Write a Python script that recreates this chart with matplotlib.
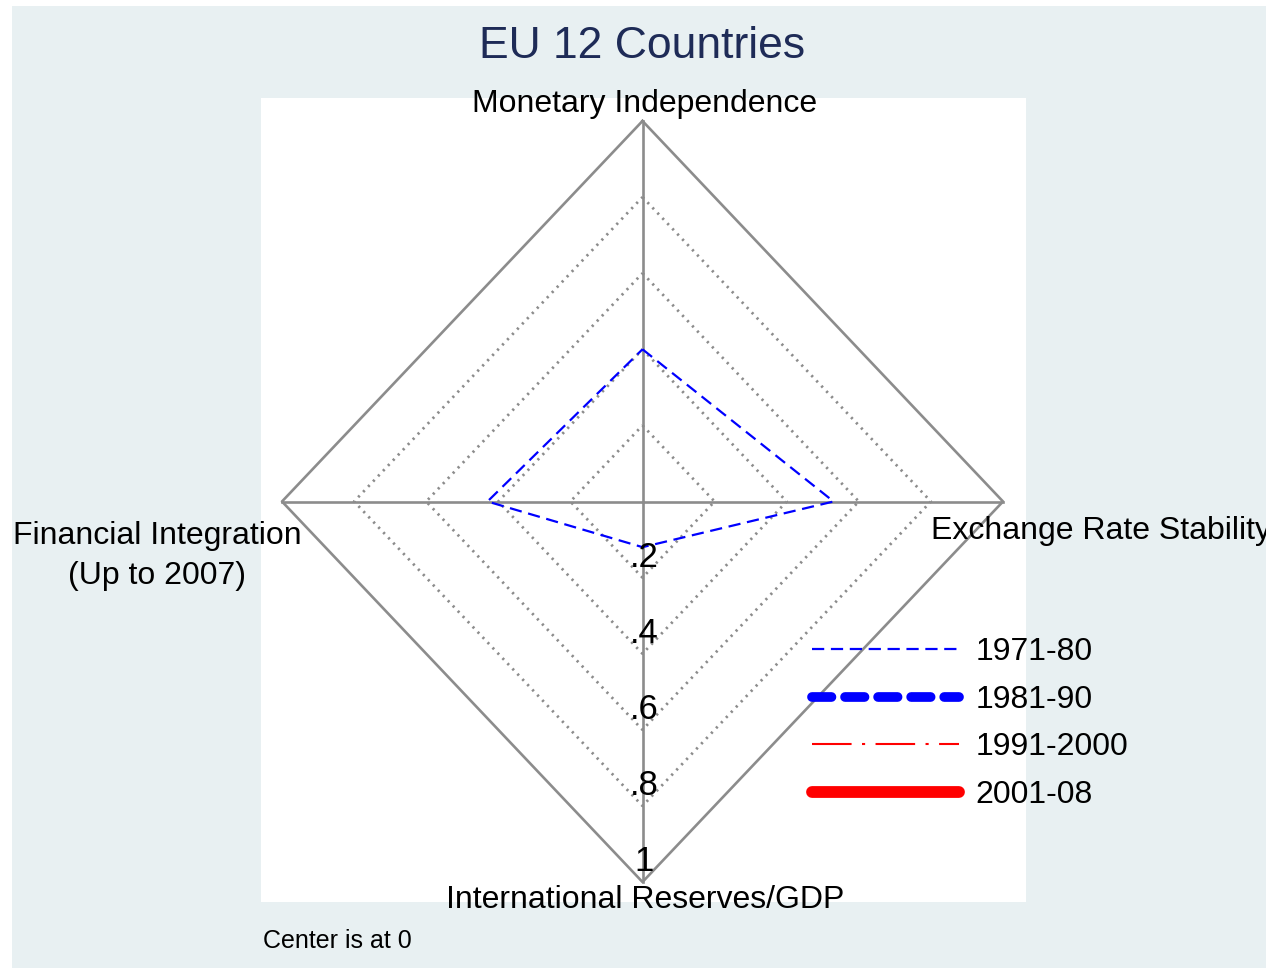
import numpy as np
import matplotlib.pyplot as plt
from matplotlib.patches import Rectangle

plt.rcParams['font.family'] = ['Liberation Sans', 'DejaVu Sans']

title = "EU 12 Countries"
categories = ["Monetary Independence", "Exchange Rate Stability",
              "International Reserves/GDP", "Financial Integration\n(Up to 2007)"]
ticks = [0.2, 0.4, 0.6, 0.8, 1.0]
tick_labels = [".2", ".4", ".6", ".8", "1"]
periods = ["1971-80", "1981-90", "1991-2000", "2001-08"]
v1971 = [0.40, 0.53, 0.12, 0.43]
v1981 = []
v1991 = []
v2001 = []

# spoke directions: top, right, bottom, left
dx = np.array([0, 1, 0, -1])
dy = np.array([1, 0, -1, 0])

W, H = 1266, 972
fig = plt.figure(figsize=(W / 100, H / 100), dpi=100, facecolor='white')

bg = '#e8f0f2'
fig.patches.append(Rectangle((12 / W, 1 - 968 / H), (W - 12) / W, (968 - 6) / H,
                             transform=fig.transFigure, facecolor=bg, edgecolor='none', zorder=-10))
fig.patches.append(Rectangle((261 / W, 1 - 902 / H), (1026 - 261) / W, (902 - 98) / H,
                             transform=fig.transFigure, facecolor='white', edgecolor='none', zorder=-9))

ax = fig.add_axes([282 / W, 1 - 882 / H, (1003 - 282) / W, (882 - 121) / H])
ax.set_xlim(-1, 1)
ax.set_ylim(-1, 1)
ax.axis('off')

grey = '#8c8c8c'
# grid rings
for r in ticks[:-1]:
    xs = np.append(dx * r, dx[0] * r)
    ys = np.append(dy * r, dy[0] * r)
    ax.plot(xs, ys, color=grey, lw=2, linestyle=(0, (0.8, 1.8)), clip_on=False)
ax.plot(np.append(dx, dx[0]), np.append(dy, dy[0]), color=grey, lw=1.9, clip_on=False)
# spokes
for i in range(4):
    ax.plot([0, dx[i]], [0, dy[i]], color=grey, lw=1.9, clip_on=False)

def series(vals):
    if len(vals) == 0:
        return [], []
    v = np.array(vals)
    return np.append(dx * v, dx[0] * v[0]), np.append(dy * v, dy[0] * v[0])

x, y = series(v1971)
ax.plot(x, y, color='#0000ff', lw=1.6, dashes=(5.5, 3), label=periods[0], clip_on=False)
x, y = series(v1981)
ax.plot(x, y, color='#0000ff', lw=7, dashes=(2.0, 1.4), dash_capstyle='round',
        label=periods[1])
x, y = series(v1991)
ax.plot(x, y, color='#ff0000', lw=1.5, dashes=(19, 5, 1.5, 5), label=periods[2])
x, y = series(v2001)
ax.plot(x, y, color='#ff0000', lw=8.5, solid_capstyle='round', label=periods[3])

fs = 23
ax.text(0.007, 1.045, categories[0], ha='center', va='center', fontsize=fs)
ax.text(0.80, -0.078, categories[1], ha='left', va='center', fontsize=fs)
ax.text(0.007, -1.047, categories[2], ha='center', va='center', fontsize=fs)
ax.text(-1.347, -0.143, categories[3], ha='center', va='center', fontsize=fs,
        linespacing=1.4)

for r, lbl in zip(ticks, tick_labels):
    ax.annotate(lbl, (0.005, -r), xytext=(0, 14.5), textcoords='offset points',
                ha='center', va='center', fontsize=25)

fig.text(642 / W, 1 - 47 / H, title, ha='center', va='center', fontsize=32,
         color='#1e2b57')
fig.text(263 / W, 1 - 941 / H, "Center is at 0", ha='left', va='center', fontsize=18)

ax.legend(loc='upper left', bbox_to_anchor=(0.619, 0.374),
          bbox_transform=fig.transFigure, frameon=False, fontsize=fs,
          handlelength=4.6, handletextpad=0.5, labelspacing=0.55)

fig.savefig('out.png', dpi=100, facecolor='white')
